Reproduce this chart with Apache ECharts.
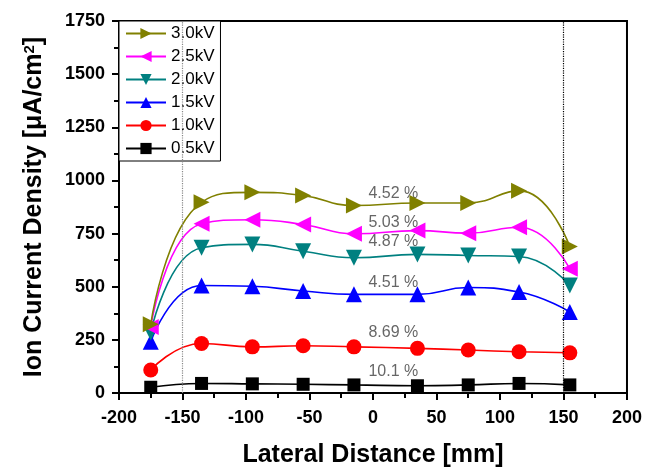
<!DOCTYPE html>
<html>
<head>
<meta charset="utf-8">
<script src="https://cdn.jsdelivr.net/npm/echarts@6/dist/echarts.min.js"></script>
<style>
  html, body { margin: 0; padding: 0; background: #fff; }
  #main { width: 645px; height: 475px; }
</style>
</head>
<body>
<div id="main"></div>
<script>
// lateral positions [mm]
var xs = [-175, -135, -95, -55, -15, 35, 75, 115, 155];

// ion current density [uA/cm2] per voltage
var kv30 = [323, 897, 944, 929, 882, 894, 894, 952, 689];
var kv25 = [311, 796, 815, 793, 749, 764, 752, 780, 585];
var kv20 = [285, 683, 699, 667, 636, 652, 647, 642, 506];
var kv15 = [241, 506, 502, 480, 464, 464, 496, 475, 381];
var kv10 = [108, 233, 217, 222, 217, 210, 202, 194, 189];
var kv05 = [27, 45, 43, 41, 38, 34, 38, 45, 38];

var legendNames = ['3.0kV', '2.5kV', '2.0kV', '1.5kV', '1.0kV', '0.5kV'];

// uniformity notes
var noteText = ['4.52 %', '5.03 %', '4.87 %', '4.51 %', '8.69 %', '10.1 %'];
var noteY = [937, 801, 710, 518, 285, 103];
var noteX = 16;

// edge of the uniform zone
var edgeLines = [-150, 150];

function pairs(vals) {
	var out = [];
	for (var i = 0; i < xs.length; i++) out.push([xs[i], vals[i]]);
	return out;
}

function line(name, vals, color, symbol, rot, size) {
	return {
		name: name,
		type: 'line',
		smooth: 0.5,
		data: pairs(vals),
		symbol: symbol,
		symbolRotate: rot,
		symbolSize: size,
		itemStyle: { color: color },
		lineStyle: { color: color, width: 1.6 },
		z: 3
	};
}

var notes = [];
for (var i = 0; i < noteText.length; i++) notes.push([noteX, noteY[i], noteText[i]]);

var chart = echarts.init(document.getElementById('main'));
var option = {
	animation: false,
	textStyle: { fontFamily: 'Liberation Sans, Arial, sans-serif' },
	grid: {
		left: 119, right: 18, top: 21, bottom: 82,
		show: true, borderColor: '#000', borderWidth: 2
	},
	legend: {
		data: legendNames,
		orient: 'vertical',
		left: 119, top: 21,
		itemWidth: 40, itemHeight: 14, itemGap: 6,
		padding: [4, 6, 4, 6],
		borderColor: '#000', borderWidth: 1,
		backgroundColor: '#fff',
		textStyle: { fontSize: 17, lineHeight: 17, color: '#000' }
	},
	xAxis: {
		type: 'value',
		min: -200, max: 200, interval: 50,
		name: 'Lateral Distance [mm]',
		nameLocation: 'middle', nameGap: 50,
		nameTextStyle: { fontSize: 25, fontWeight: 'bold', color: '#000' },
		axisLine: { onZero: false, lineStyle: { color: '#000', width: 2 } },
		axisTick: { inside: false, length: 7, lineStyle: { width: 2 } },
		minorTick: { show: true, splitNumber: 2, length: 5, lineStyle: { color: '#000', width: 2 } },
		axisLabel: { fontSize: 18, fontWeight: 'bold', color: '#000', margin: 16 },
		splitLine: { show: false }
	},
	yAxis: {
		type: 'value',
		min: 0, max: 1750, interval: 250,
		name: '{a|Ion Current Density [μA/cm}{s|2}{a|]}',
		nameLocation: 'middle', nameGap: 72,
		nameTextStyle: {
			rich: {
				a: { fontSize: 25, fontWeight: 'bold', color: '#000' },
				s: { fontSize: 15, fontWeight: 'bold', color: '#000', verticalAlign: 'top', padding: [0, 0, 10, 0] }
			}
		},
		axisLine: { show: true, onZero: false, lineStyle: { color: '#000', width: 2 } },
		axisTick: { show: true, inside: false, length: 7, lineStyle: { width: 2 } },
		minorTick: { show: true, splitNumber: 2, length: 5, lineStyle: { color: '#000', width: 2 } },
		axisLabel: {
			fontSize: 18, fontWeight: 'bold', color: '#000', margin: 14,
			formatter: function (v) { return String(v); }
		},
		splitLine: { show: false }
	},
	series: [
		line('0.5kV', kv05, '#000000', 'rect', 0, 13),
		line('1.0kV', kv10, '#ff0000', 'circle', 0, 15),
		line('1.5kV', kv15, '#0000ff', 'triangle', 0, 16),
		line('2.0kV', kv20, '#008080', 'triangle', 180, 16),
		line('2.5kV', kv25, '#ff00ff', 'triangle', 90, 16),
		line('3.0kV', kv30, '#808000', 'triangle', -90, 16),
		{
			name: 'edges',
			type: 'line',
			data: [],
			markLine: {
				silent: true,
				symbol: 'none',
				label: { show: false },
				data: [
					{ xAxis: edgeLines[0], lineStyle: { color: '#888', type: 'dotted', width: 1.2 } },
					{ xAxis: edgeLines[1], lineStyle: { color: '#000', type: 'dotted', width: 1.2 } }
				]
			},
			z: 1
		},
		{
			name: 'notes',
			type: 'scatter',
			data: notes,
			symbolSize: 1,
			itemStyle: { color: 'rgba(0,0,0,0)' },
			silent: true,
			label: {
				show: true,
				position: 'inside',
				align: 'center',
				verticalAlign: 'middle',
				fontSize: 16,
				color: '#404040',
				formatter: function (p) { return p.value[2]; }
			},
			z: 2
		}
	]
};
chart.setOption(option);
</script>
</body>
</html>
